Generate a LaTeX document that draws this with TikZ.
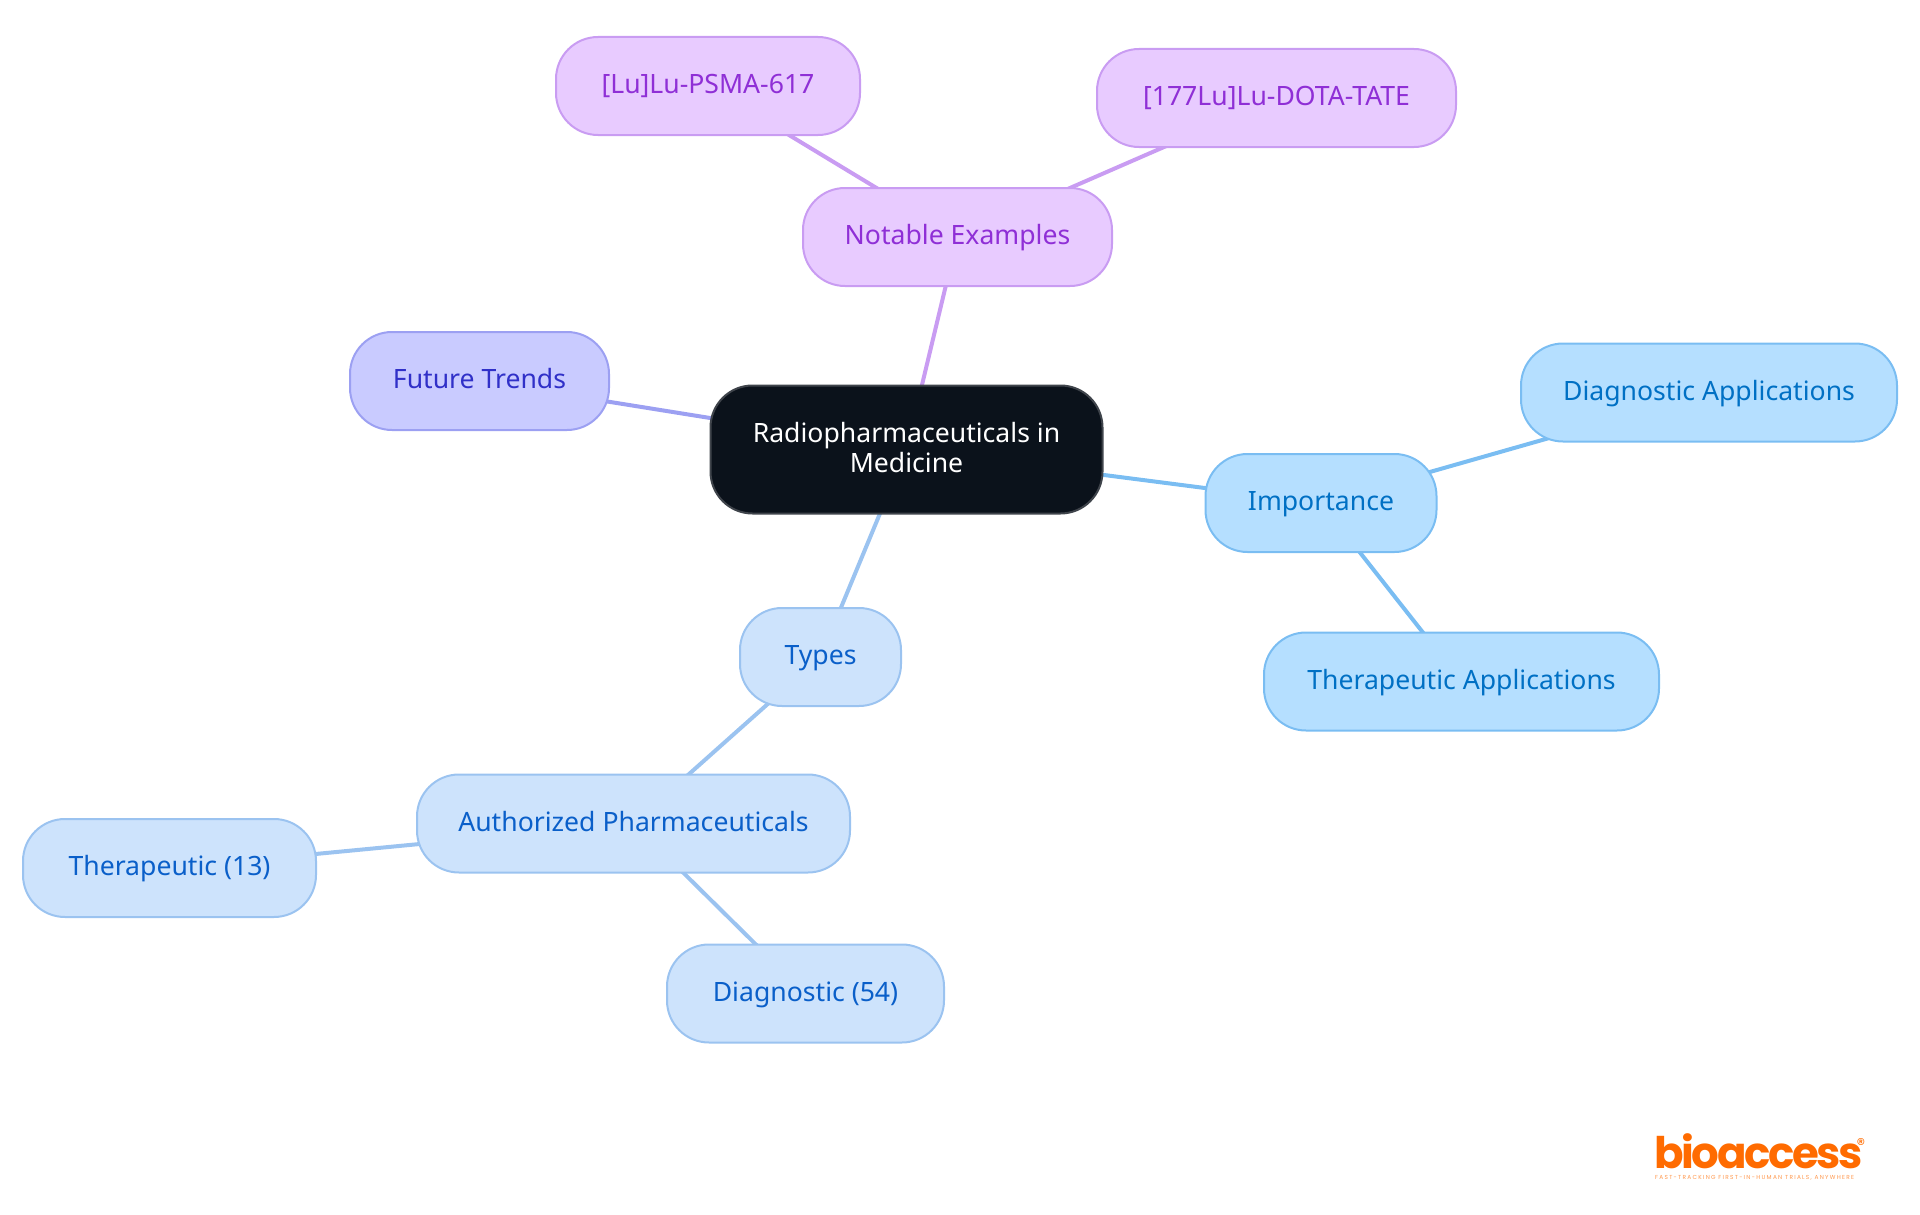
\documentclass[tikz,border=0pt]{standalone}
\usepackage{fontspec}
\setmainfont{Noto Sans}
\newfontfamily\logofont[LetterSpace=-5.5]{Poppins}
\newfontfamily\signfont{Poppins}
\newfontfamily\tagfont[LetterSpace=22]{Poppins}
\usetikzlibrary{backgrounds}
\definecolor{rootfill}{HTML}{0B121B}
\definecolor{rootline}{HTML}{3F444B}
\definecolor{purplefill}{HTML}{E8CBFF}
\definecolor{purpleline}{HTML}{C99CF2}
\definecolor{purpletext}{HTML}{8F2FD6}
\definecolor{indigofill}{HTML}{C9CBFF}
\definecolor{indigoline}{HTML}{9CA0F2}
\definecolor{indigotext}{HTML}{3030C8}
\definecolor{skyfill}{HTML}{B5DFFF}
\definecolor{skyline}{HTML}{7ABDF2}
\definecolor{skytext}{HTML}{0070C4}
\definecolor{bluefill}{HTML}{CDE3FC}
\definecolor{blueline}{HTML}{9BC3F0}
\definecolor{bluetext}{HTML}{0A5FC9}
\definecolor{logoorange}{HTML}{FF6B00}
\tikzset{
  topic/.style={draw, line width=2pt, rounded corners=42pt, align=center, inner sep=0pt,
    minimum height=98pt, text height=20pt, text depth=4.5pt, font=\fontsize{26.6}{30}\selectfont},
  purplebox/.style={topic, fill=purplefill, draw=purpleline, text=purpletext},
  indigobox/.style={topic, fill=indigofill, draw=indigoline, text=indigotext},
  skybox/.style={topic, fill=skyfill, draw=skyline, text=skytext},
  bluebox/.style={topic, fill=bluefill, draw=blueline, text=bluetext},
  link/.style={line width=4pt}
}
\begin{document}
\begin{tikzpicture}[x=1pt,y=-1pt]
  \useasboundingbox (0,0) rectangle (1920,1215);
  \node[topic, fill=rootfill, draw=rootline, text=white, minimum width=392pt, minimum height=128pt, text height=, text depth=4pt] (root) at (906.5,449.5) {Radiopharmaceuticals in\\Medicine};
  \node[purplebox, minimum width=309pt] (examples) at (957.5,237) {Notable Examples};
  \node[purplebox, minimum width=304pt] (psma) at (708,86) {[Lu]Lu-PSMA-617};
  \node[purplebox, minimum width=359pt] (dotatate) at (1276.5,98) {[177Lu]Lu-DOTA-TATE};
  \node[indigobox, minimum width=259pt] (trends) at (479.5,381) {Future Trends};
  \node[skybox, minimum width=231pt] (importance) at (1321,503) {Importance};
  \node[skybox, minimum width=376pt] (diagnosticapp) at (1709,392.5) {Diagnostic Applications};
  \node[skybox, minimum width=395pt] (therapeuticapp) at (1461.5,681.5) {Therapeutic Applications};
  \node[bluebox, minimum width=161pt] (types) at (820.5,657) {Types};
  \node[bluebox, minimum width=433pt] (authorized) at (633.5,823.5) {Authorized Pharmaceuticals};
  \node[bluebox, minimum width=293pt] (therapeutic) at (169.5,868) {Therapeutic (13)};
  \node[bluebox, minimum width=277pt] (diagnostic) at (805.5,993.5) {Diagnostic (54)};
  \begin{pgfonlayer}{background}
    \draw[link, purpleline] (root.center) -- (examples.center);
    \draw[link, purpleline] (examples.center) -- (psma.center);
    \draw[link, purpleline] (examples.center) -- (dotatate.center);
    \draw[link, indigoline] (root.center) -- (trends.center);
    \draw[link, skyline] (root.center) -- (importance.center);
    \draw[link, skyline] (importance.center) -- (diagnosticapp.center);
    \draw[link, skyline] (importance.center) -- (therapeuticapp.center);
    \draw[link, blueline] (root.center) -- (types.center);
    \draw[link, blueline] (types.center) -- (authorized.center);
    \draw[link, blueline] (authorized.center) -- (therapeutic.center);
    \draw[link, blueline] (authorized.center) -- (diagnostic.center);
  \end{pgfonlayer}
  \node[text=logoorange, inner sep=0pt, anchor=base west, font=\logofont\bfseries\fontsize{43.5}{44}\selectfont] (logo) at (1654,1168) {bioaccess};
  \node[text=logoorange, inner sep=0pt, font=\signfont\fontsize{17}{17}\selectfont] (registered) at (1861,1144) {®};
  \node[text=logoorange!70, inner sep=0pt, anchor=base west, font=\tagfont\fontsize{5.8}{7}\selectfont] (tagline) at (1655,1179) {FAST-TRACKING FIRST-IN-HUMAN TRIALS, ANYWHERE};
\end{tikzpicture}
\end{document}
